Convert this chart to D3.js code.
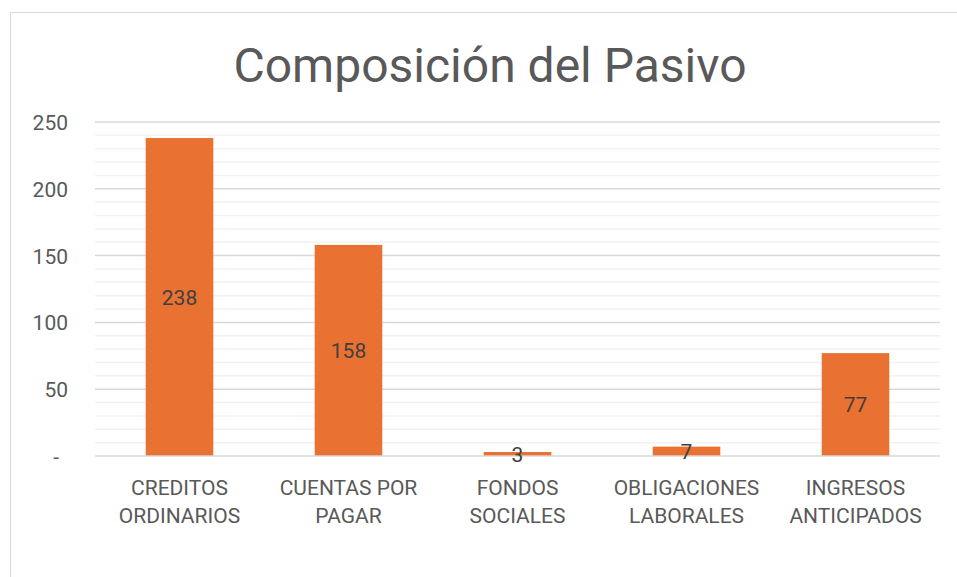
<!DOCTYPE html>
<html><head><meta charset="utf-8">
<script src="https://cdn.jsdelivr.net/npm/d3@7"></script>
<style>body{margin:0;background:#fff}svg{display:block}text{font-family:Roboto,"Liberation Sans",sans-serif}</style>
</head><body><svg id="c" width="957" height="577"></svg>
<script>
const titleText = "Composición del Pasivo";
const categories = [["CREDITOS","ORDINARIOS"],["CUENTAS POR","PAGAR"],["FONDOS","SOCIALES"],["OBLIGACIONES","LABORALES"],["INGRESOS","ANTICIPADOS"]];
const values = [238, 158, 3, 7, 77];
const yTicks = [0, 50, 100, 150, 200, 250];
const yTickLabels = ["-", "50", "100", "150", "200", "250"];
const minorTicks = d3.range(0, 251, 10);

const svg = d3.select("#c");
const W = 957, H = 577;
const plot = {l: 95, r: 940, t: 122, b: 456};

svg.append("rect").attr("x",10.5).attr("y",12.5).attr("width",980).attr("height",640)
  .attr("fill","#fff").attr("stroke","#d9d9d9").attr("stroke-width",1);

svg.append("text").attr("x",490).attr("y",82).attr("text-anchor","middle")
  .attr("font-size",48).attr("fill","#595959").text(titleText);

const x = d3.scaleBand().domain(d3.range(categories.length)).range([plot.l, plot.r]).padding(0);
const y = d3.scaleLinear().domain([0,250]).range([plot.b, plot.t]);

// minor gridlines
svg.append("g").selectAll("line").data(minorTicks.filter(v => v % 50 !== 0)).join("line")
  .attr("x1",plot.l).attr("x2",plot.r).attr("y1",d=>y(d)).attr("y2",d=>y(d))
  .attr("stroke","#f2f2f2").attr("stroke-width",1.5);
// major gridlines
svg.append("g").selectAll("line").data(yTicks.filter(v=>v>0)).join("line")
  .attr("x1",plot.l).attr("x2",plot.r).attr("y1",d=>y(d)).attr("y2",d=>y(d))
  .attr("stroke","#d9d9d9").attr("stroke-width",1.5);

// y axis labels
const yAxis = d3.axisLeft(y).tickValues(yTicks).tickSize(0).tickPadding(0)
  .tickFormat((d,i)=>yTickLabels[i]);
const gy = svg.append("g").attr("transform",`translate(68,0)`).call(yAxis);
gy.select(".domain").remove();
gy.selectAll("text").attr("font-size",21).attr("fill","#595959")
  .attr("font-family","Roboto, 'Liberation Sans', sans-serif")
  .attr("dy","0.36em")
  .attr("dx",d=>d===0?-9:0);

// bars
const bw = x.bandwidth()*0.4;
svg.append("g").selectAll("rect").data(values).join("rect")
  .attr("x",(d,i)=>x(i)+x.bandwidth()/2-bw/2).attr("width",bw)
  .attr("y",d=>y(d)).attr("height",d=>y(0)-y(d))
  .attr("fill","#e97132");

// x axis line
svg.append("line").attr("x1",plot.l).attr("x2",plot.r).attr("y1",y(0)).attr("y2",y(0))
  .attr("stroke","#d9d9d9").attr("stroke-width",1.5);

// value labels
svg.append("g").selectAll("text").data(values).join("text")
  .attr("x",(d,i)=>x(i)+x.bandwidth()/2)
  .attr("y",d=>(y(d)+y(0))/2)
  .attr("dy","0.36em").attr("text-anchor","middle")
  .attr("font-size",21).attr("fill","#404040").text(d=>d);

// category labels
const gx = svg.append("g");
categories.forEach((c,i)=>{
  const t = gx.append("text").attr("x",x(i)+x.bandwidth()/2).attr("y",495)
    .attr("text-anchor","middle").attr("font-size",21).attr("fill","#595959");
  c.forEach((line,j)=>t.append("tspan").attr("x",x(i)+x.bandwidth()/2).attr("dy",j===0?0:28).text(line));
});
</script></body></html>
